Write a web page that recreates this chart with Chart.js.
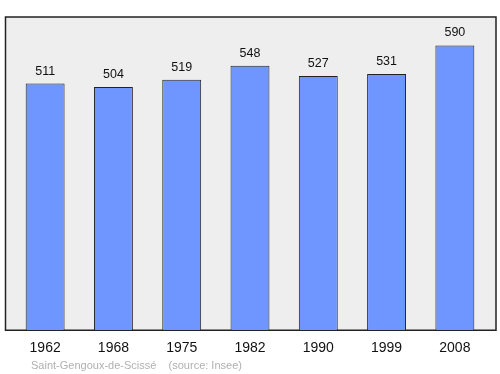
<!DOCTYPE html>
<html>
<head>
<meta charset="utf-8">
<script src="https://cdn.jsdelivr.net/npm/chart.js@4"></script>
<style>
  html, body { margin: 0; padding: 0; background: #fff; }
  #wrap { width: 500px; height: 374px; position: relative; }
</style>
</head>
<body>
<div id="wrap"><canvas id="popChart" width="500" height="374"></canvas></div>
<script>
const years = ['1962', '1968', '1975', '1982', '1990', '1999', '2008'];
const population = [511, 504, 519, 548, 527, 531, 590];
const sourceText = 'Saint-Gengoux-de-Scissé    (source: Insee)';

// frame + grey background behind the bars, a bit wider than the chart area
const framePlugin = {
  id: 'frame',
  beforeDatasetsDraw(chart) {
    const { ctx, chartArea: a } = chart;
    ctx.save();
    ctx.fillStyle = '#eeeeee';
    ctx.strokeStyle = '#222';
    ctx.lineWidth = 1.5;
    ctx.beginPath();
    ctx.rect(5.5, a.top, 490.5, a.bottom - a.top);
    ctx.fill();
    ctx.stroke();
    ctx.restore();
  },
  afterDraw(chart) {
    const { ctx } = chart;
    ctx.save();
    ctx.fillStyle = '#b0b0b0';
    ctx.font = '11px "Liberation Sans", Arial, sans-serif';
    ctx.textBaseline = 'alphabetic';
    ctx.fillText(sourceText, 31, 369);
    ctx.restore();
  }
};

// value labels above each bar
const valueLabels = {
  id: 'valueLabels',
  afterDatasetsDraw(chart) {
    const { ctx } = chart;
    const meta = chart.getDatasetMeta(0);
    ctx.save();
    ctx.fillStyle = '#111';
    ctx.font = '12.5px "Liberation Sans", Arial, sans-serif';
    ctx.textAlign = 'center';
    ctx.textBaseline = 'alphabetic';
    meta.data.forEach((bar, i) => {
      ctx.fillText(String(population[i]), bar.x, bar.y - 9);
    });
    ctx.restore();
  }
};

new Chart(document.getElementById('popChart'), {
  type: 'bar',
  data: {
    labels: years,
    datasets: [{
      data: population,
      backgroundColor: '#6f96ff',
      borderColor: '#222',
      borderWidth: 1,
      categoryPercentage: 1,
      barPercentage: 0.57
    }]
  },
  options: {
    responsive: false,
    animation: false,
    layout: { padding: { left: 11, right: 11, top: 17, bottom: 7 } },
    plugins: { legend: { display: false }, tooltip: { enabled: false } },
    scales: {
      y: { display: false, min: 0, max: 649 },
      x: {
        grid: { display: false, drawTicks: false },
        border: { display: false },
        ticks: {
          color: '#111',
          padding: 10,
          font: { family: '"Liberation Sans", Arial, sans-serif', size: 14 }
        }
      }
    }
  },
  plugins: [framePlugin, valueLabels]
});
</script>
</body>
</html>
